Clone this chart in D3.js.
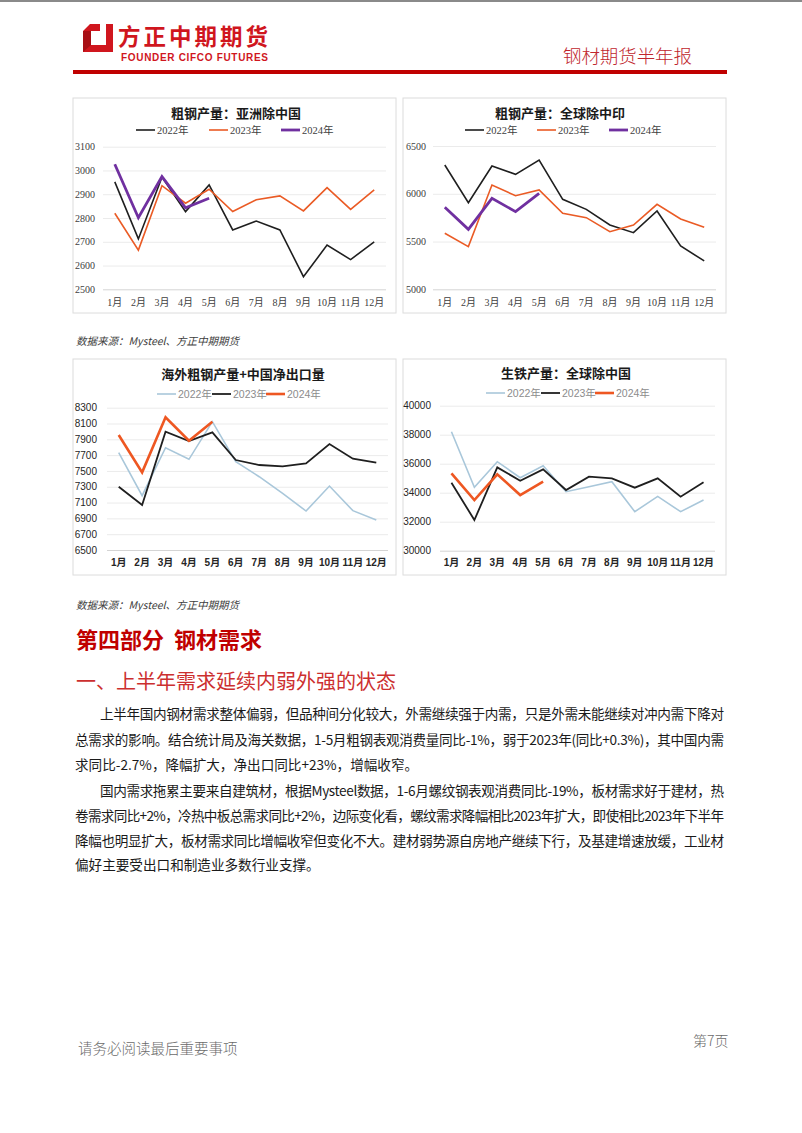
<!DOCTYPE html>
<html><head><meta charset="utf-8">
<script src="https://cdn.jsdelivr.net/npm/d3@7"></script>
<style>
html,body{margin:0;padding:0;background:#fff;}
svg{display:block;}
</style></head>
<body>
<script>
// ---------- DATA ----------
const months = ['1月','2月','3月','4月','5月','6月','7月','8月','9月','10月','11月','12月'];

// Chart 1: 粗钢产量：亚洲除中国
const c1Ticks = [2500,2600,2700,2800,2900,3000,3100];
const c1_2022 = [2952,2712,2972,2827,2939,2750,2787,2750,2553,2686,2625,2700];
const c1_2023 = [2820,2665,2936,2862,2921,2827,2877,2893,2830,2928,2836,2918];
const c1_2024 = [3026,2801,2974,2843,2883];

// Chart 2: 粗钢产量：全球除中印
const c2Ticks = [5000,5500,6000,6500];
const c2_2022 = [6301,5907,6291,6203,6353,5942,5837,5673,5593,5820,5453,5297];
const c2_2023 = [5586,5447,6092,5980,6040,5795,5750,5603,5673,5890,5736,5649];
const c2_2024 = [5858,5628,5952,5813,6005];

// Chart 3: 海外粗钢产量+中国净出口量
const c3Ticks = [6500,6700,6900,7100,7300,7500,7700,7900,8100,8300];
const c3_2022 = [7731,7187,7794,7647,8123,7617,7427,7217,6993,7309,6998,6879];
const c3_2023 = [7301,7069,7996,7878,7988,7638,7575,7558,7596,7840,7655,7604];
const c3_2024 = [7954,7482,8178,7883,8123];

// Chart 4: 生铁产量：全球除中国
const c4Ticks = [30000,32000,34000,36000,38000,40000];
const c4_2022 = [38207,34368,36138,35034,35862,34069,34414,34759,32690,33747,32690,33494];
const c4_2023 = [34690,32115,35747,34828,35609,34184,35103,34989,34345,34989,33724,34713];
const c4_2024 = [35333,33494,35264,33839,34759];

const seriesNames = ['2022年','2023年','2024年'];

// ---------- PAGE ----------
const W = 802, H = 1133;
const svg = d3.select('body').append('svg').attr('width', W).attr('height', H);
svg.append('rect').attr('width', W).attr('height', H).attr('fill', '#fff');
svg.append('rect').attr('x',0).attr('y',0).attr('width',W).attr('height',2).attr('fill','#8a8a8a');

const CJK = '"Noto Sans CJK SC", sans-serif';
const SERIF = '"Liberation Serif", "DejaVu Serif", "Noto Sans CJK SC", serif';
const SANS = '"Liberation Sans", Arial, "Noto Sans CJK SC", sans-serif';

// logo
const logo = svg.append('g');
logo.append('path')
  .attr('d','M83,31 L90,24 L113,24 L113,52 L83,52 Z M91,31 L91,45 L106,45 L106,31 Z')
  .attr('fill-rule','evenodd').attr('fill', '#d0161e');
logo.append('path').attr('d','M100,24 L106,24 L106,31 L100,31 Z').attr('fill','#fff');
logo.append('path').attr('d','M91,45 L83,52 L83,31 L91,31 Z').attr('fill','#a80f15');
svg.append('text').attr('x',118).attr('y',44.5).text('方正中期期货')
  .attr('font-family',CJK).attr('font-weight',700).attr('font-size',22.5).attr('fill','#d0161e')
  .attr('textLength',150).attr('lengthAdjust','spacing');
svg.append('text').attr('x',121).attr('y',61).text('FOUNDER CIFCO FUTURES')
  .attr('font-family','"Liberation Sans", Arial, sans-serif').attr('font-weight',700)
  .attr('font-size',10).attr('fill','#d0161e').attr('textLength',147).attr('lengthAdjust','spacing');
svg.append('text').attr('x',563).attr('y',63).text('钢材期货半年报')
  .attr('font-family',CJK).attr('font-weight',300).attr('font-size',18.5).attr('fill','#c0262d')
  .attr('textLength',129).attr('lengthAdjust','spacing');
svg.append('rect').attr('x',73).attr('y',70).attr('width',654).attr('height',4).attr('fill','#c00000');

// ---------- CHART FUNCTION ----------
function drawChart(cfg) {
  const g = svg.append('g');
  g.append('rect').attr('x',cfg.box[0]).attr('y',cfg.box[1])
    .attr('width',cfg.box[2]-cfg.box[0]).attr('height',cfg.box[3]-cfg.box[1])
    .attr('fill','#fff').attr('stroke','#dcdcdc').attr('stroke-width',1);

  g.append('text').attr('x',cfg.titleX).attr('y',cfg.titleY).attr('text-anchor','middle')
    .attr('dominant-baseline','central').text(cfg.title)
    .attr('font-family',CJK).attr('font-weight',700).attr('font-size',13).attr('fill','#1a1a1a');

  const x = d3.scaleBand().domain(months).range([cfg.gx0, cfg.gx1]);
  const y = d3.scaleLinear().domain([cfg.ticks[0], cfg.ticks[cfg.ticks.length-1]]).range([cfg.yBottom, cfg.yTop]);

  const grid = g.append('g').attr('transform',`translate(${cfg.gx0},0)`)
    .call(d3.axisLeft(y).tickValues(cfg.ticks).tickSize(-(cfg.gx1-cfg.gx0)).tickFormat(''));
  grid.select('.domain').remove();
  grid.selectAll('line').attr('stroke', d => d === cfg.ticks[0] ? '#d4d4d4' : '#ebebeb').attr('stroke-width',1);

  const ya = g.append('g').attr('transform',`translate(${cfg.labelRight},0)`)
    .call(d3.axisLeft(y).tickValues(cfg.ticks).tickSize(0).tickPadding(0).tickFormat(d3.format('d')));
  ya.select('.domain').remove();
  ya.selectAll('text').attr('font-family',cfg.font).attr('font-size',cfg.tickSize)
    .attr('fill',cfg.tickColor).attr('font-weight',cfg.tickWeight||400);

  const xa = g.append('g').attr('transform',`translate(0,${cfg.monthY})`)
    .call(d3.axisBottom(x).tickSize(0).tickPadding(0));
  xa.select('.domain').remove();
  xa.selectAll('text').attr('dy','0.35em').attr('font-family',cfg.font).attr('font-size',cfg.tickSize)
    .attr('fill',cfg.tickColor).attr('font-weight',cfg.monthWeight||400);

  const line = d3.line().x((d,i)=>x(months[i])+x.bandwidth()/2).y(d=>y(d));
  cfg.series.forEach((s,k)=>{
    g.append('path').datum(s).attr('d',line).attr('fill','none')
      .attr('stroke',cfg.colors[k]).attr('stroke-width',cfg.widths[k])
      .attr('stroke-linejoin','miter').attr('stroke-linecap','butt');
  });

  cfg.legend.forEach((lx,k)=>{
    g.append('line').attr('x1',lx).attr('x2',lx+19).attr('y1',cfg.legendY).attr('y2',cfg.legendY)
      .attr('stroke',cfg.colors[k]).attr('stroke-width',cfg.widths[k]);
    g.append('text').attr('x',lx+21).attr('y',cfg.legendY).attr('dominant-baseline','central')
      .text(seriesNames[k]).attr('font-family',cfg.font).attr('font-size',10.5).attr('fill',cfg.legendColor);
  });
}

drawChart({
  box:[73,98,396,313], title:'粗钢产量：亚洲除中国', titleX:236, titleY:112,
  gx0:103, gx1:386, yTop:146.7, yBottom:289.3, ticks:c1Ticks, labelRight:95, monthY:302,
  font:SERIF, tickSize:10, tickColor:'#404040', legendColor:'#404040',
  series:[c1_2022,c1_2023,c1_2024], colors:['#1f1f1f','#ea5b25','#7030a0'], widths:[1.6,1.6,2.8],
  legend:[136,209,281], legendY:130
});
drawChart({
  box:[403,98,726,313], title:'粗钢产量：全球除中印', titleX:560, titleY:112,
  gx0:433, gx1:716, yTop:146, yBottom:289.3, ticks:c2Ticks, labelRight:426, monthY:302,
  font:SERIF, tickSize:10, tickColor:'#404040', legendColor:'#404040',
  series:[c2_2022,c2_2023,c2_2024], colors:['#1f1f1f','#ea5b25','#7030a0'], widths:[1.6,1.6,2.8],
  legend:[465,537,609], legendY:130
});
drawChart({
  box:[73,359,396,575], title:'海外粗钢产量+中国净出口量', titleX:243, titleY:373,
  gx0:107, gx1:388, yTop:407.7, yBottom:550, ticks:c3Ticks, labelRight:97, monthY:562,
  font:SANS, tickSize:10, tickColor:'#262626', tickWeight:400, monthWeight:700, legendColor:'#8c8c8c',
  series:[c3_2022,c3_2023,c3_2024], colors:['#a9c7da','#1f1f1f','#ee5722'], widths:[1.6,1.8,2.6],
  legend:[157,212,266], legendY:394
});
drawChart({
  box:[403,359,726,575], title:'生铁产量：全球除中国', titleX:566, titleY:372,
  gx0:440, gx1:715, yTop:405.7, yBottom:550.7, ticks:c4Ticks, labelRight:431, monthY:562,
  font:SANS, tickSize:10, tickColor:'#262626', tickWeight:400, monthWeight:700, legendColor:'#8c8c8c',
  series:[c4_2022,c4_2023,c4_2024], colors:['#a9c7da','#1f1f1f','#ee5722'], widths:[1.6,1.8,2.6],
  legend:[486,541,595], legendY:393
});

// ---------- TEXT ----------
function src(yy){
  svg.append('text').attr('x',76).attr('y',yy).attr('dominant-baseline','central')
    .text('数据来源：Mysteel、方正中期期货').attr('font-family',CJK).attr('font-style','italic')
    .attr('font-size',10.5).attr('fill','#404040');
}
src(340); src(604);

svg.append('text').attr('x',76).attr('y',638).attr('dominant-baseline','central')
  .text('第四部分  钢材需求').attr('font-family',CJK).attr('font-weight',700).attr('font-size',22)
  .attr('fill','#c00000').attr('xml:space','preserve').style('white-space','pre');
svg.append('text').attr('x',76).attr('y',680).attr('dominant-baseline','central')
  .text('一、上半年需求延续内弱外强的状态').attr('font-family',CJK).attr('font-weight',400).attr('font-size',20)
  .attr('fill','#cc2f2f');

const paraLines = [
  '上半年国内钢材需求整体偏弱，但品种间分化较大，外需继续强于内需，只是外需未能继续对冲内需下降对',
  '总需求的影响。结合统计局及海关数据，1-5月粗钢表观消费量同比-1%，弱于2023年(同比+0.3%)，其中国内需',
  '求同比-2.7%，降幅扩大，净出口同比+23%，增幅收窄。',
  '国内需求拖累主要来自建筑材，根据Mysteel数据，1-6月螺纹钢表观消费同比-19%，板材需求好于建材，热',
  '卷需求同比+2%，冷热中板总需求同比+2%，边际变化看，螺纹需求降幅相比2023年扩大，即使相比2023年下半年',
  '降幅也明显扩大，板材需求同比增幅收窄但变化不大。建材弱势源自房地产继续下行，及基建增速放缓，工业材',
  '偏好主要受出口和制造业多数行业支撑。'
];
const lineY = [713,739,764,790,815,839.5,864];
const indent = [true,false,false,true,false,false,false];
const full = [true,true,false,true,true,true,false];
paraLines.forEach((t,i)=>{
  const x0 = indent[i] ? 100 : 75;
  const tx = svg.append('text').attr('x',x0).attr('y',lineY[i]).attr('dominant-baseline','central')
    .text(t).attr('font-family',CJK).attr('font-size',13.6).attr('fill','#1a1a1a');
  if (full[i]) tx.attr('textLength',724-x0).attr('lengthAdjust','spacing');
});

svg.append('text').attr('x',78).attr('y',1047).attr('dominant-baseline','central')
  .text('请务必阅读最后重要事项').attr('font-family',CJK).attr('font-weight',300).attr('font-size',14.5).attr('fill','#6b6b6b');
svg.append('text').attr('x',693).attr('y',1040).attr('dominant-baseline','central')
  .text('第7页').attr('font-family',CJK).attr('font-weight',300).attr('font-size',14).attr('fill','#6b6b6b');
</script>
</body></html>
